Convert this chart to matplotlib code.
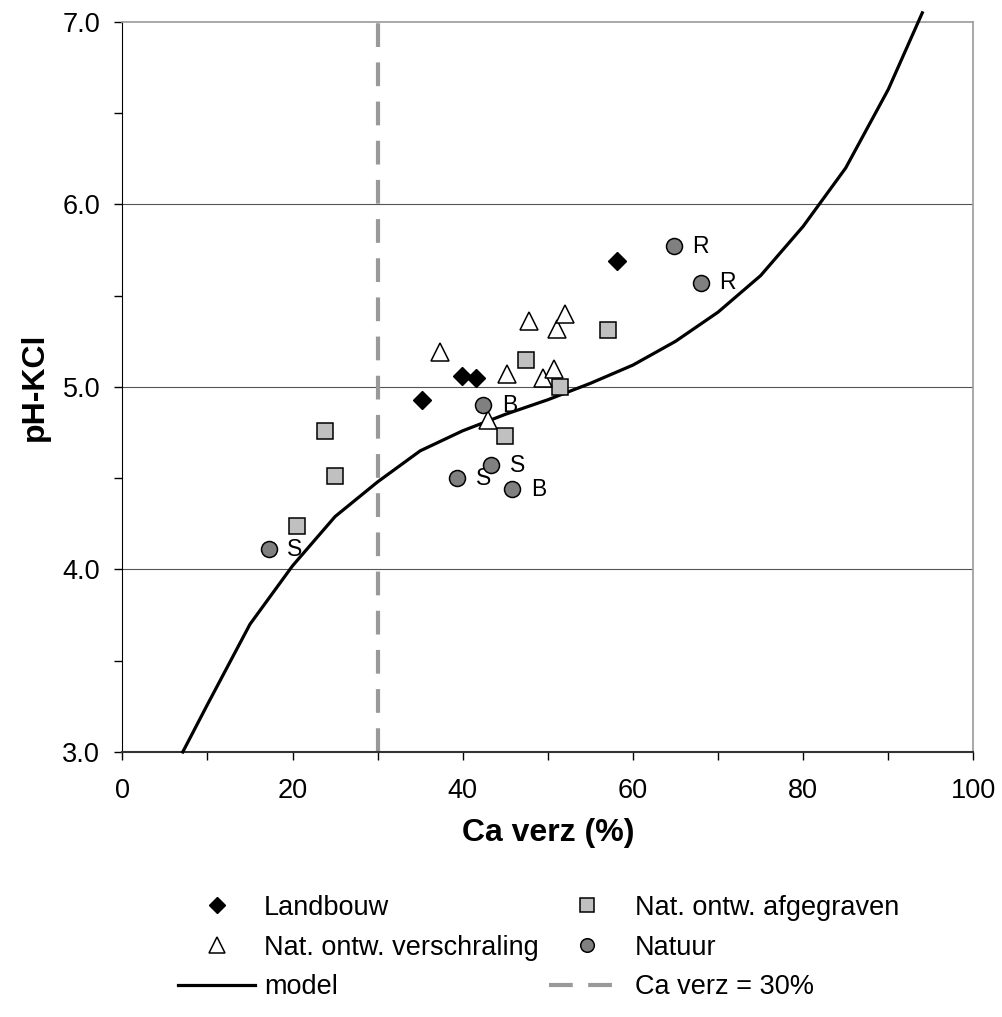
import numpy as np
import matplotlib.pyplot as plt
from matplotlib.ticker import MultipleLocator

plt.rcParams['font.family'] = ['Liberation Sans', 'DejaVu Sans']

# data
landbouw_x = [35.2, 39.9, 41.6, 58.1]
landbouw_y = [4.93, 5.06, 5.05, 5.69]

afgegraven_x = [20.5, 23.8, 25.0, 45.0, 47.4, 51.4, 57.1]
afgegraven_y = [4.24, 4.76, 4.51, 4.73, 5.15, 5.00, 5.31]

verschraling_x = [37.3, 43.0, 45.2, 47.8, 49.4, 50.7, 51.1, 52.0]
verschraling_y = [5.19, 4.82, 5.07, 5.36, 5.05, 5.10, 5.32, 5.40]

natuur_x = [17.2, 39.3, 42.4, 43.3, 45.8, 64.8, 68.0]
natuur_y = [4.11, 4.50, 4.90, 4.57, 4.44, 5.77, 5.57]
natuur_lab = ['S', 'S', 'B', 'S', 'B', 'R', 'R']

model_x = [7.1, 10, 15, 20, 25, 30, 35, 40, 45, 50, 55, 60, 65, 70, 75, 80, 85, 90, 94]
model_y = [3.0, 3.26, 3.70, 4.02, 4.29, 4.48, 4.65, 4.76, 4.85, 4.93, 5.02, 5.12,
           5.25, 5.41, 5.61, 5.88, 6.20, 6.63, 7.05]

grens = 30

fig = plt.figure(figsize=(10.02, 10.17), dpi=100)
ax = fig.add_axes([0.1221, 0.2606, 0.8493, 0.7178])

for y in [4, 5, 6]:
    ax.axhline(y, color='#555555', lw=0.8, zorder=1)

ax.plot([grens, grens], [3, 7], color='#999999', lw=3, dashes=(5.7, 3.7),
        label='Ca verz = 30%', zorder=2, dash_capstyle='butt')
ax.plot(model_x, model_y, color='black', lw=2.3, label='model', zorder=3, clip_on=False)

ax.plot(landbouw_x, landbouw_y, 'D', ms=9.5, mfc='black', mec='black', mew=1,
        label='Landbouw', zorder=4)
ax.plot(afgegraven_x, afgegraven_y, 's', ms=12, mfc='#C0C0C0', mec='black', mew=1.1,
        label='Nat. ontw. afgegraven', zorder=4)
ax.plot(verschraling_x, verschraling_y, '^', ms=13, mfc='white', mec='black', mew=1.1,
        label='Nat. ontw. verschraling', zorder=4)
ax.plot(natuur_x, natuur_y, 'o', ms=11.5, mfc='#808080', mec='black', mew=1.1,
        label='Natuur', zorder=4)
for x, y, t in zip(natuur_x, natuur_y, natuur_lab):
    ax.annotate(t, (x, y), xytext=(19, 0), textcoords='offset points',
                ha='center', va='center', fontsize=16.5)

ax.set_xlim(0, 100)
ax.set_ylim(3, 7)
ax.xaxis.set_major_locator(MultipleLocator(20))
ax.xaxis.set_minor_locator(MultipleLocator(10))
ax.yaxis.set_major_locator(MultipleLocator(1))
ax.yaxis.set_minor_locator(MultipleLocator(0.5))
ax.yaxis.set_major_formatter(plt.FormatStrFormatter('%.1f'))
ax.tick_params(which='both', direction='out', length=6, width=1, labelsize=19.5)
ax.tick_params(axis='x', pad=13)
ax.tick_params(axis='y', pad=10)

for s in ['top', 'right']:
    ax.spines[s].set_color('#999999')
    ax.spines[s].set_linewidth(1.2)
ax.spines['left'].set_color('black')
ax.spines['bottom'].set_color('#333333')
ax.spines['bottom'].set_linewidth(1.5)

ax.set_xlabel('Ca verz (%)', fontsize=23, fontweight='bold', labelpad=10)
ax.set_ylabel('pH-KCl', fontsize=23, fontweight='bold', labelpad=9)

h, l = ax.get_legend_handles_labels()
order = [2, 4, 1, 3, 5, 0]
fig.legend([h[i] for i in order], [l[i] for i in order], ncol=2, frameon=False,
           fontsize=19.5, loc='upper left', bbox_to_anchor=(0.1776, 0.12),
           borderpad=0, borderaxespad=0,
           handlelength=2.85, columnspacing=0.37, labelspacing=0.5, markerscale=0.85,
           handletextpad=0.33)

fig.savefig('out.png', dpi=100)
